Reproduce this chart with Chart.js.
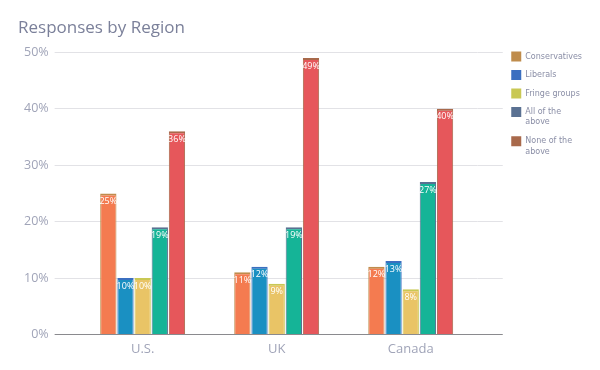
<!DOCTYPE html>
<html>
<head>
<meta charset="utf-8">
<script src="https://cdn.jsdelivr.net/npm/chart.js@4"></script>
<style>
  html, body { margin: 0; padding: 0; background: #fff; }
  #wrap { width: 600px; height: 370px; }
</style>
</head>
<body>
<div id="wrap"><canvas id="chart"></canvas></div>
<script>
const regions = ['U.S.', 'UK', 'Canada'];
const seriesNames = ['Conservatives', 'Liberals', 'Fringe groups', 'All of the above', 'None of the above'];
const conservatives = [25, 11, 12];
const liberals = [10, 12, 13];
const fringeGroups = [10, 9, 8];
const allOfTheAbove = [19, 19, 27];
const noneOfTheAbove = [36, 49, 40];
const yTicks = [0, 10, 20, 30, 40, 50];

const fills = ['#f47b50', '#1a90c2', '#e9c466', '#15b497', '#e6575b'];
const edges = ['#bf8c4c', '#3b6fc0', '#c9c854', '#5a7192', '#a8694b'];
const textColor = '#a0a4b8';
const gridColor = '#e2e2e6';

const seriesValues = [conservatives, liberals, fringeGroups, allOfTheAbove, noneOfTheAbove];

// wrap long legend names into two lines
function wrapName(name) {
  const words = name.split(' ');
  if (name.length <= 14) return name;
  return [words.slice(0, 3).join(' '), words.slice(3).join(' ')];
}

const barLabels = {
  id: 'barLabels',
  afterDatasetsDraw(chart) {
    const ctx = chart.ctx;
    ctx.save();
    ctx.font = '9px "Open Sans", sans-serif';
    ctx.fillStyle = '#ffffff';
    ctx.textAlign = 'center';
    ctx.textBaseline = 'middle';
    chart.data.datasets.forEach((ds, i) => {
      chart.getDatasetMeta(i).data.forEach((bar, j) => {
        ctx.fillText(ds.data[j] + '%', bar.x, bar.y + 8);
      });
    });
    ctx.restore();
  }
};

const gridByValue = c => (c.tick && c.tick.value === 0) ? '#8a8a8e' : gridColor;

new Chart(document.getElementById('chart'), {
  type: 'bar',
  data: {
    labels: regions,
    datasets: seriesNames.map((name, i) => ({
      label: name,
      data: seriesValues[i],
      backgroundColor: fills[i],
      borderColor: edges[i],
      borderWidth: { top: 2, left: 1, right: 1, bottom: 0 },
      borderSkipped: 'bottom',
      categoryPercentage: 0.64,
      barPercentage: 0.95
    }))
  },
  options: {
    responsive: true,
    maintainAspectRatio: false,
    animation: false,
    layout: { padding: { left: 18, right: 8, top: 0, bottom: 6 } },
    plugins: {
      title: {
        display: true,
        text: 'Responses by Region',
        align: 'start',
        color: '#7b809a',
        font: { family: '"Open Sans", sans-serif', size: 17, weight: 'normal' },
        padding: { top: 18, bottom: 14 }
      },
      legend: {
        position: 'right',
        align: 'start',
        title: {
          display: true,
          text: ' ',
          font: { size: 10, lineHeight: 1 },
          padding: { top: 33, bottom: 0 }
        },
        labels: {
          boxWidth: 10,
          boxHeight: 10,
          padding: 8.5,
          color: '#8a8ea6',
          font: { family: '"DejaVu Sans", sans-serif', size: 8, lineHeight: 1.3 },
          generateLabels(chart) {
            return chart.data.datasets.map((ds, i) => ({
              text: wrapName(ds.label),
              fillStyle: edges[i],
              strokeStyle: edges[i],
              lineWidth: 0,
              fontColor: '#8a8ea6',
              hidden: !chart.isDatasetVisible(i),
              datasetIndex: i
            }));
          }
        }
      },
      tooltip: { enabled: false }
    },
    scales: {
      x: {
        grid: { display: false, drawTicks: false },
        border: { display: true, color: '#8a8a8e' },
        ticks: {
          color: textColor,
          padding: 7,
          font: { family: '"Open Sans", sans-serif', size: 13 }
        }
      },
      y: {
        min: 0,
        max: 50,
        afterBuildTicks: axis => { axis.ticks = yTicks.map(v => ({ value: v })); },
        grid: { color: gridByValue, tickLength: 21, drawTicks: true },
        border: { display: false },
        ticks: {
          color: textColor,
          padding: 6,
          font: { family: '"Open Sans", sans-serif', size: 12.5 },
          callback: v => v + '%'
        }
      },
      y2: {
        position: 'right',
        min: 0,
        max: 50,
        afterBuildTicks: axis => { axis.ticks = yTicks.map(v => ({ value: v })); },
        grid: { color: gridByValue, tickLength: 25, drawTicks: true, drawOnChartArea: false },
        border: { display: false },
        ticks: { display: false }
      }
    }
  },
  plugins: [barLabels]
});
</script>
</body>
</html>
